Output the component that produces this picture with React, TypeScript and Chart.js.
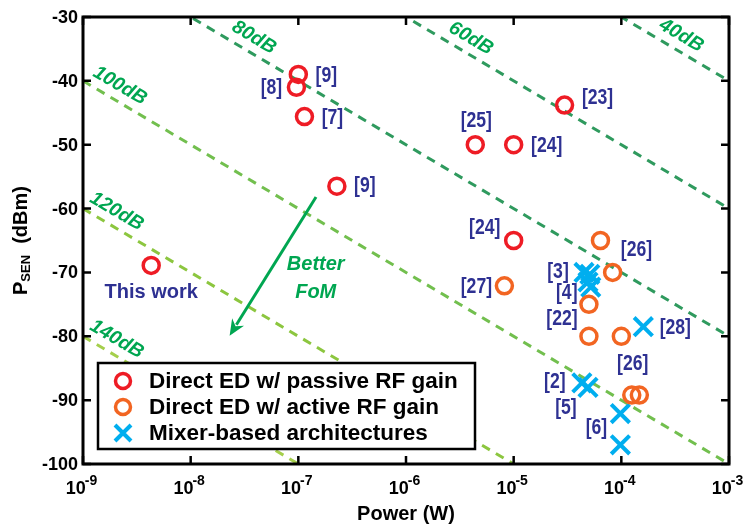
import React, { useEffect, useRef } from "react";
import { Chart, registerables } from "chart.js";

Chart.register(...registerables);

// ---- data ----
const xTickExps = [-9, -8, -7, -6, -5, -4, -3];
const yTicks = [-100, -90, -80, -70, -60, -50, -40, -30];
const fomLevels = [40, 60, 80, 100, 120, 140];
const fomLabelX = [3.6e-4, 4.0e-6, 3.87e-8, 2.2e-9, 2.05e-9, 2.05e-9];

const passiveX = [1.0e-7, 9.6e-8, 1.14e-7, 2.28e-7, 4.4e-6, 1.0e-5, 2.97e-5, 1.0e-5, 4.3e-9];
const passiveY = [-39, -41, -45.6, -56.5, -50, -50, -43.8, -65, -68.9];
const activeX = [6.4e-5, 8.2e-6, 8.3e-5, 5.0e-5, 5.0e-5, 1.0e-4, 1.25e-4, 1.47e-4];
const activeY = [-65, -72.1, -70, -75, -80, -80, -89.2, -89.2];
const mixerX = [4.5e-5, 5.1e-5, 4.9e-5, 5.2e-5, 1.6e-4, 4.3e-5, 4.9e-5, 9.8e-5, 9.8e-5];
const mixerY = [-70, -70.3, -71.5, -72.3, -78.5, -87.3, -88, -92.1, -97];

const seriesNames = [
  "Direct ED w/ passive RF gain",
  "Direct ED w/ active RF gain",
  "Mixer-based architectures",
];

// reference labels: series index, point index, text, pixel offset
const refLabels = [
  { s: 0, i: 0, t: "[9]", dx: 28, dy: 0 },
  { s: 0, i: 1, t: "[8]", dx: -25, dy: 0 },
  { s: 0, i: 2, t: "[7]", dx: 28, dy: 0 },
  { s: 0, i: 3, t: "[9]", dx: 28, dy: -1 },
  { s: 0, i: 4, t: "[25]", dx: 1, dy: -25 },
  { s: 0, i: 5, t: "[24]", dx: 33, dy: 0 },
  { s: 0, i: 6, t: "[23]", dx: 33, dy: -8 },
  { s: 0, i: 7, t: "[24]", dx: -29, dy: -14 },
  { s: 1, i: 0, t: "[26]", dx: 36, dy: 8 },
  { s: 1, i: 1, t: "[27]", dx: -28, dy: 0 },
  { s: 1, i: 3, t: "[22]", dx: -27, dy: 14 },
  { s: 1, i: 6, t: "[26]", dx: 1, dy: -32 },
  { s: 2, i: 0, t: "[3]", dx: -26, dy: -1 },
  { s: 2, i: 3, t: "[4]", dx: -24, dy: 5 },
  { s: 2, i: 4, t: "[28]", dx: 32, dy: 0 },
  { s: 2, i: 5, t: "[2]", dx: -27, dy: -2 },
  { s: 2, i: 6, t: "[5]", dx: -22, dy: 20 },
  { s: 2, i: 7, t: "[6]", dx: -24, dy: 13 },
];
const thisWork = { s: 0, i: 8, t: "This work", dx: 0, dy: 27 };

const arrowFrom = [1.46e-7, -58.2];
const arrowTo = [2.3e-8, -79.9];
const betterAt = [1.45e-7, -68.8];

// ---- styles ----
const RED = "#ee1c25";
const ORANGE = "#f26522";
const BLUE = "#00aeef";
const NAVY = "#2e3192";
const GREEN = "#00a651";
const fomColors: Record<number, string> = {
  40: "#2f9a5e",
  60: "#2f9a5e",
  80: "#2f9a5e",
  100: "#72bf4e",
  120: "#8cc63f",
  140: "#a5cf4c",
};
const SANS = '"Liberation Sans", Arial, sans-serif';

const fomY = (fom: number, p: number) => -fom - 10 * Math.log10(p * 1000);

function drawMarker(ctx: CanvasRenderingContext2D, kind: number, x: number, y: number) {
  ctx.save();
  if (kind === 2) {
    ctx.strokeStyle = BLUE;
    ctx.lineWidth = 4;
    const r = 8;
    ctx.beginPath();
    ctx.moveTo(x - r, y - r);
    ctx.lineTo(x + r, y + r);
    ctx.moveTo(x - r, y + r);
    ctx.lineTo(x + r, y - r);
    ctx.stroke();
  } else {
    ctx.strokeStyle = kind === 0 ? RED : ORANGE;
    ctx.lineWidth = 3.5;
    ctx.beginPath();
    ctx.arc(x, y, 7.5, 0, Math.PI * 2);
    ctx.stroke();
  }
  ctx.restore();
}

const decorPlugin = {
  id: "decor",
  afterDatasetsDraw(chart: any) {
    const ctx: CanvasRenderingContext2D = chart.ctx;
    const xs = chart.scales.x;
    const ys = chart.scales.y;
    const a = chart.chartArea;
    const px = (v: number) => xs.getPixelForValue(v);
    const py = (v: number) => ys.getPixelForValue(v);
    const seriesX = [passiveX, activeX, mixerX];
    const seriesY = [passiveY, activeY, mixerY];

    ctx.save();
    // FoM labels
    ctx.fillStyle = GREEN;
    ctx.font = `italic bold 19.5px ${SANS}`;
    ctx.textAlign = "center";
    ctx.textBaseline = "middle";
    const ang = Math.atan2(py(-40) - py(-30), px(1e-8) - px(1e-9));
    fomLevels.forEach((f, k) => {
      const lx = fomLabelX[k];
      const x = px(lx);
      const y = py(fomY(f, lx)) - 17;
      ctx.save();
      ctx.translate(x, y);
      ctx.rotate(ang);
      ctx.fillText(`${f}dB`, 0, 0);
      ctx.restore();
    });

    // arrow
    const ax0 = px(arrowFrom[0]), ay0 = py(arrowFrom[1]);
    const ax1 = px(arrowTo[0]), ay1 = py(arrowTo[1]);
    const th = Math.atan2(ay1 - ay0, ax1 - ax0);
    const hl = 16, hw = 7;
    ctx.strokeStyle = GREEN;
    ctx.lineWidth = 3;
    ctx.beginPath();
    ctx.moveTo(ax0, ay0);
    ctx.lineTo(ax1 - Math.cos(th) * hl * 0.8, ay1 - Math.sin(th) * hl * 0.8);
    ctx.stroke();
    ctx.fillStyle = GREEN;
    ctx.beginPath();
    ctx.moveTo(ax1, ay1);
    ctx.lineTo(ax1 - Math.cos(th) * hl - Math.sin(th) * hw, ay1 - Math.sin(th) * hl + Math.cos(th) * hw);
    ctx.lineTo(ax1 - Math.cos(th) * hl * 0.7, ay1 - Math.sin(th) * hl * 0.7);
    ctx.lineTo(ax1 - Math.cos(th) * hl + Math.sin(th) * hw, ay1 - Math.sin(th) * hl - Math.cos(th) * hw);
    ctx.closePath();
    ctx.fill();

    // Better FoM
    ctx.font = `italic bold 20px ${SANS}`;
    ctx.fillText("Better", px(betterAt[0]), py(betterAt[1]));
    ctx.fillText("FoM", px(betterAt[0]), py(betterAt[1]) + 28);

    // reference labels (condensed bold)
    ctx.fillStyle = NAVY;
    ctx.font = `bold 22px ${SANS}`;
    refLabels.forEach((l) => {
      const x = px(seriesX[l.s][l.i]) + l.dx;
      const y = py(seriesY[l.s][l.i]) + l.dy;
      ctx.save();
      ctx.translate(x, y);
      ctx.scale(0.8, 1);
      ctx.fillText(l.t, 0, 1);
      ctx.restore();
    });
    ctx.font = `bold 20px ${SANS}`;
    ctx.fillText(
      thisWork.t,
      px(seriesX[thisWork.s][thisWork.i]) + thisWork.dx,
      py(seriesY[thisWork.s][thisWork.i]) + thisWork.dy
    );

    // legend
    const lx0 = 98, ly0 = 363, lw = 377, lh = 86;
    ctx.fillStyle = "#ffffff";
    ctx.fillRect(lx0, ly0, lw, lh);
    ctx.strokeStyle = "#000";
    ctx.lineWidth = 2.5;
    ctx.strokeRect(lx0, ly0, lw, lh);
    ctx.font = `bold 22.5px ${SANS}`;
    ctx.textAlign = "left";
    ctx.fillStyle = "#000";
    seriesNames.forEach((n, k) => {
      const yy = ly0 + 18 + k * 26;
      drawMarker(ctx, k, lx0 + 25, yy);
      ctx.fillStyle = "#000";
      ctx.fillText(n, lx0 + 51, yy + 1);
    });

    // frame
    ctx.strokeStyle = "#000";
    ctx.lineWidth = 3;
    ctx.strokeRect(a.left, a.top, a.right - a.left, a.bottom - a.top);
    // ticks
    ctx.lineWidth = 2.5;
    ctx.beginPath();
    const tl = 8;
    xTickExps.forEach((e) => {
      const x = px(Math.pow(10, e));
      ctx.moveTo(x, a.bottom);
      ctx.lineTo(x, a.bottom - tl);
      ctx.moveTo(x, a.top);
      ctx.lineTo(x, a.top + tl);
    });
    yTicks.forEach((v) => {
      const y = py(v);
      ctx.moveTo(a.left, y);
      ctx.lineTo(a.left + tl, y);
      ctx.moveTo(a.right, y);
      ctx.lineTo(a.right - tl, y);
    });
    ctx.stroke();

    // y tick labels
    ctx.fillStyle = "#000";
    ctx.font = `bold 18px ${SANS}`;
    ctx.textAlign = "right";
    ctx.textBaseline = "middle";
    yTicks.forEach((v) => {
      ctx.fillText(String(v), a.left - 5, py(v) + 1);
    });
    // x tick labels
    ctx.textAlign = "left";
    ctx.textBaseline = "alphabetic";
    xTickExps.forEach((e) => {
      const x = px(Math.pow(10, e));
      ctx.font = `bold 18px ${SANS}`;
      const w1 = ctx.measureText("10").width;
      ctx.font = `bold 14px ${SANS}`;
      const exp = String(e);
      const w2 = ctx.measureText(exp).width;
      const sx = x - (w1 + w2) / 2 - 1;
      ctx.font = `bold 18px ${SANS}`;
      ctx.fillText("10", sx, a.bottom + 30);
      ctx.font = `bold 14px ${SANS}`;
      ctx.fillText(exp, sx + w1 - 1, a.bottom + 21);
    });
    // x title
    ctx.font = `bold 20px ${SANS}`;
    ctx.textAlign = "center";
    ctx.fillText("Power (W)", (a.left + a.right) / 2, a.bottom + 56);
    // y title
    ctx.save();
    ctx.translate(27, (a.top + a.bottom) / 2);
    ctx.rotate(-Math.PI / 2);
    ctx.textAlign = "left";
    ctx.font = `bold 20px ${SANS}`;
    const wP = ctx.measureText("P").width;
    ctx.font = `bold 13px ${SANS}`;
    const wS = ctx.measureText("SEN").width;
    ctx.font = `bold 20px ${SANS}`;
    const wU = ctx.measureText("  (dBm)").width;
    let sx = -(wP + wS + wU) / 2;
    ctx.fillText("P", sx, 0);
    sx += wP;
    ctx.font = `bold 13px ${SANS}`;
    ctx.fillText("SEN", sx, 3);
    sx += wS;
    ctx.font = `bold 20px ${SANS}`;
    ctx.fillText("  (dBm)", sx, 0);
    ctx.restore();

    ctx.restore();
  },
};

export default function App() {
  const ref = useRef<HTMLCanvasElement | null>(null);
  useEffect(() => {
    if (!ref.current) return;
    const fomSets = fomLevels.map((f) => ({
      type: "line" as const,
      data: [
        { x: 1e-9, y: fomY(f, 1e-9) },
        { x: 1e-3, y: fomY(f, 1e-3) },
      ],
      borderColor: fomColors[f],
      borderWidth: 3,
      borderDash: [9, 7],
      pointRadius: 0,
      fill: false,
      order: 10,
    }));
    const mk = (xs: number[], ys: number[]) => xs.map((x, i) => ({ x, y: ys[i] }));
    const chart = new Chart(ref.current, {
      type: "scatter",
      data: {
        datasets: [
          ...fomSets,
          {
            label: seriesNames[0],
            data: mk(passiveX, passiveY),
            pointStyle: "circle",
            pointRadius: 8,
            borderWidth: 3.5,
            borderColor: RED,
            backgroundColor: "rgba(0,0,0,0)",
            order: 1,
          },
          {
            label: seriesNames[1],
            data: mk(activeX, activeY),
            pointStyle: "circle",
            pointRadius: 8,
            borderWidth: 3.5,
            borderColor: ORANGE,
            backgroundColor: "rgba(0,0,0,0)",
            order: 1,
          },
          {
            label: seriesNames[2],
            data: mk(mixerX, mixerY),
            pointStyle: "crossRot",
            pointRadius: 13,
            borderWidth: 4,
            borderColor: BLUE,
            backgroundColor: BLUE,
            order: 1,
          },
        ] as any,
      },
      options: {
        animation: false,
        responsive: false,
        devicePixelRatio: 1,
        layout: { padding: { left: 83, right: 13, top: 10, bottom: 65 } },
        plugins: { legend: { display: false }, tooltip: { enabled: false } },
        scales: {
          x: { type: "logarithmic", min: 1e-9, max: 1e-3, display: false },
          y: { type: "linear", min: -100, max: -30, display: false },
        },
      } as any,
      plugins: [decorPlugin],
    });
    return () => chart.destroy();
  }, []);
  return (
    <div style={{ position: "absolute", left: 0, top: 0, width: 746, height: 529, background: "#fff" }}>
      <canvas ref={ref} width={746} height={529} style={{ width: 746, height: 529 }} />
    </div>
  );
}
